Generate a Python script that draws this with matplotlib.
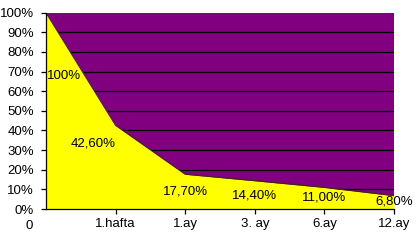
import matplotlib
matplotlib.use("Agg")
import matplotlib.pyplot as plt
from matplotlib.ticker import FixedLocator

plt.rcParams['font.family'] = ['Liberation Sans', 'DejaVu Sans']

categories = ["0", "1.hafta", "1.ay", "3. ay", "6.ay", "12.ay"]
values = [100.0, 42.6, 17.7, 14.4, 11.0, 6.8]
value_labels = ["100%", "42,60%", "17,70%", "14,40%", "11,00%", "6,80%"]
y_ticks = [0, 10, 20, 30, 40, 50, 60, 70, 80, 90, 100]

# layout of data labels (data units)
label_pos = [(0.02, 68.0, 'left'), (0.675, 33.2, 'center'), (2.0, 8.7, 'center'),
             (3.0, 7.1, 'center'), (4.0, 6.1, 'center'), (5.0, 3.6, 'center')]

W, H = 419, 241
fig = plt.figure(figsize=(W / 100, H / 100), dpi=100)
fig.patch.set_facecolor('white')
ax = fig.add_axes([46 / W, 1 - 209 / H, (394 - 46) / W, (209 - 12.7) / H])
ax.set_facecolor('#800080')

x = list(range(len(categories)))
ax.set_xlim(0, len(categories) - 1)
ax.set_ylim(0, 100)

for t in y_ticks[1:-1]:
    ax.axhline(t, color='black', lw=0.9, zorder=1)

ax.fill_between(x, values, 0, color='#FFFF00', zorder=2, lw=0)
ax.plot(x, values, color='#3a2a10', lw=0.8, zorder=3)

fs = 9.5
for (lx, ly, ha), lab in zip(label_pos, value_labels):
    ax.text(lx, ly, lab, ha=ha, va='center', fontsize=fs, color='black', zorder=4)

for s in ['top', 'right']:
    ax.spines[s].set_visible(False)
for s in ['left', 'bottom']:
    ax.spines[s].set_color('black')
    ax.spines[s].set_linewidth(0.9)
    ax.spines[s].set_zorder(5)

ax.yaxis.set_major_locator(FixedLocator(y_ticks))
ax.set_yticklabels([f"{t}%" for t in y_ticks])
ax.xaxis.set_major_locator(FixedLocator(x[1:]))
ax.set_xticklabels(categories[1:])
ax.tick_params(axis='both', direction='out', length=3.5, width=0.9, color='black',
               labelsize=fs, labelcolor='black')
ax.tick_params(axis='y', pad=5)
ax.tick_params(axis='x', pad=3)

# first category label sits left of the axis
fig.text(29 / W, 1 - 226 / H, categories[0], ha='center', va='center', fontsize=fs)

fig.savefig('out.png', dpi=100, facecolor='white')
